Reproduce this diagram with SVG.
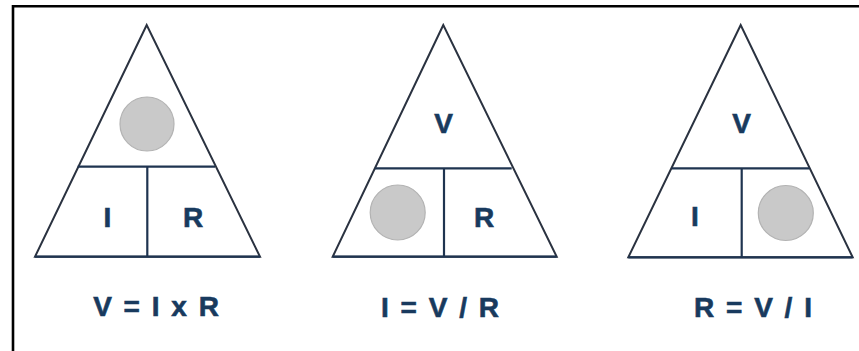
<svg xmlns="http://www.w3.org/2000/svg" width="859" height="351" viewBox="0 0 859 351">
<style>
.bg{fill:#ffffff}
.frame{stroke:#000;stroke-width:2.6;fill:none}
.tri{fill:#fff;stroke:#2a3240;stroke-width:2;stroke-linejoin:miter}
.div{stroke:#1f3450;stroke-width:2.2;fill:none}
.dot{fill:#c9c9c9;stroke:#b3b3b3;stroke-width:1.2}
.lbl{font-family:"Liberation Sans",Arial,sans-serif;font-weight:bold;font-size:28px;fill:#183a5e;stroke:#183a5e;stroke-width:0.6;text-anchor:middle}
.eq{font-family:"Liberation Sans",Arial,sans-serif;font-weight:bold;font-size:28px;fill:#183a5e;stroke:#183a5e;stroke-width:0.6;text-anchor:middle;word-spacing:4px}
</style>
<rect class="bg" x="0" y="0" width="859" height="351"/>
<path class="frame" d="M13,351 V6.3 H859"/>
<g id="triangle-v">
  <polygon class="tri" points="146.7,25 35,256.7 260,256.7"/>
  <line class="div" x1="77.7" y1="166.7" x2="215" y2="166.7"/>
  <line class="div" x1="147.3" y1="166.7" x2="147.3" y2="256.7"/>
  <line class="div" x1="35" y1="256.7" x2="260" y2="256.7"/>
  <circle class="dot" cx="147" cy="124" r="27"/>
  <text class="lbl" x="107.5" y="227">I</text>
  <text class="lbl" x="193" y="227">R</text>
  <text class="eq" x="156" y="315.5">V = I x R</text>
</g>
<g id="triangle-i">
  <polygon class="tri" points="443.3,25 332.7,256.7 556.7,256.7"/>
  <line class="div" x1="375" y1="168.3" x2="511.7" y2="168.3"/>
  <line class="div" x1="444" y1="168.3" x2="444" y2="256.7"/>
  <line class="div" x1="332.7" y1="256.7" x2="556.7" y2="256.7"/>
  <circle class="dot" cx="397.7" cy="212.5" r="27.5"/>
  <text class="lbl" x="443.5" y="133">V</text>
  <text class="lbl" x="484" y="227">R</text>
  <text class="eq" x="440" y="316.5">I = V / R</text>
</g>
<g id="triangle-r">
  <polygon class="tri" points="740.7,25 628.3,257.3 852.7,257.3"/>
  <line class="div" x1="671.7" y1="168.3" x2="809.3" y2="168.3"/>
  <line class="div" x1="741.7" y1="168.3" x2="741.7" y2="257.3"/>
  <line class="div" x1="628.3" y1="257.3" x2="852.7" y2="257.3"/>
  <circle class="dot" cx="785.8" cy="213" r="27.5"/>
  <text class="lbl" x="741.7" y="133">V</text>
  <text class="lbl" x="695" y="226">I</text>
  <text class="eq" x="753" y="316.5">R = V / I</text>
</g>
<g id="connectors"></g>
</svg>
